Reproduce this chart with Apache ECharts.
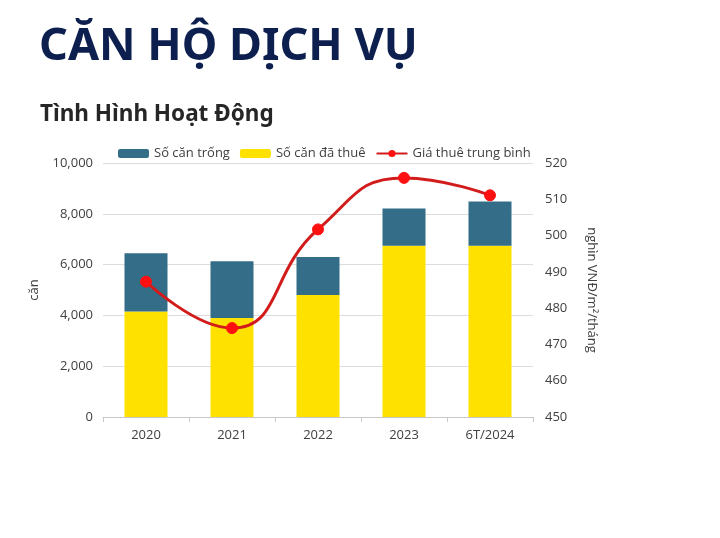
<!DOCTYPE html>
<html>
<head>
<meta charset="utf-8">
<script src="https://cdn.jsdelivr.net/npm/echarts@6/dist/echarts.min.js"></script>
<style>
html,body{margin:0;padding:0;background:#fff;}
#chart{width:720px;height:538px;}
</style>
</head>
<body>
<div id="chart"></div>
<script>
var categories = ['2020', '2021', '2022', '2023', '6T/2024'];
var rentedUnits = [4150, 3900, 4800, 6740, 6740];
var vacantUnits = [2300, 2230, 1500, 1470, 1740];
var avgRent = [487.3, 474.5, 501.7, 515.9, 511.1];
var leftTicks = [0, 2000, 4000, 6000, 8000, 10000];
var rightTicks = [450, 460, 470, 480, 490, 500, 510, 520];

var font = '"Open Sans", "Noto Sans", sans-serif';
var chart = echarts.init(document.getElementById('chart'));
chart.setOption({
  backgroundColor: '#ffffff',
  animation: false,
  title: [
    {text: 'CĂN HỘ DỊCH VỤ', left: 39, top: 25, padding: 0,
     textStyle: {fontFamily: '"Noto Sans", sans-serif', fontSize: 45, fontWeight: 'bold', color: '#0c1f4e'}},
    {text: 'Tình Hình Hoạt Động', left: 40, top: 103, padding: 0,
     textStyle: {fontFamily: '"Noto Sans", sans-serif', fontSize: 22.5, fontWeight: 'bold', color: '#262626'}}
  ],
  legend: {
    data: ['Số căn trống', 'Số căn đã thuê', 'Giá thuê trung bình'],
    left: 113, top: 142,
    itemWidth: 31, itemHeight: 9, itemGap: 10,
    textStyle: {fontFamily: font, fontSize: 13, color: '#404040'}
  },
  grid: {left: 103, right: 187, top: 163, bottom: 121},
  xAxis: {
    type: 'category', data: categories,
    axisLine: {lineStyle: {color: '#c8c8c8'}},
    axisTick: {show: true, length: 5, lineStyle: {color: '#c8c8c8'}},
    axisLabel: {fontFamily: font, fontSize: 13, color: '#404040', margin: 12}
  },
  yAxis: [
    {type: 'value', min: leftTicks[0], max: leftTicks[leftTicks.length - 1], interval: 2000,
     name: 'căn', nameLocation: 'middle', nameGap: 62, nameRotate: 90,
     nameTextStyle: {fontFamily: font, fontSize: 13, color: '#404040'},
     axisLabel: {fontFamily: font, fontSize: 13, color: '#404040', margin: 10,
       formatter: function (v) { return v.toLocaleString('en-US'); }},
     splitLine: {lineStyle: {color: '#dcdcdc'}},
     axisLine: {show: false}, axisTick: {show: false}},
    {type: 'value', min: rightTicks[0], max: rightTicks[rightTicks.length - 1], interval: 10,
     name: 'nghìn VNĐ/m²/tháng', nameLocation: 'middle', nameGap: 52, nameRotate: -90,
     nameTextStyle: {fontFamily: font, fontSize: 13, color: '#404040'},
     axisLabel: {fontFamily: font, fontSize: 13, color: '#404040', margin: 12},
     splitLine: {show: false}, axisLine: {show: false}, axisTick: {show: false}}
  ],
  series: [
    {name: 'Số căn đã thuê', type: 'bar', stack: 'units', data: rentedUnits, barWidth: '50%',
     itemStyle: {color: '#ffe100'}},
    {name: 'Số căn trống', type: 'bar', stack: 'units', data: vacantUnits, barWidth: '50%',
     itemStyle: {color: '#336d87'}},
    {name: 'Giá thuê trung bình', type: 'line', yAxisIndex: 1, data: avgRent, smooth: 0.5,
     symbol: 'circle', symbolSize: 11,
     lineStyle: {color: '#d21c1c', width: 3},
     itemStyle: {color: '#ff1010', borderColor: '#ff1010'}}
  ]
});
</script>
</body>
</html>
